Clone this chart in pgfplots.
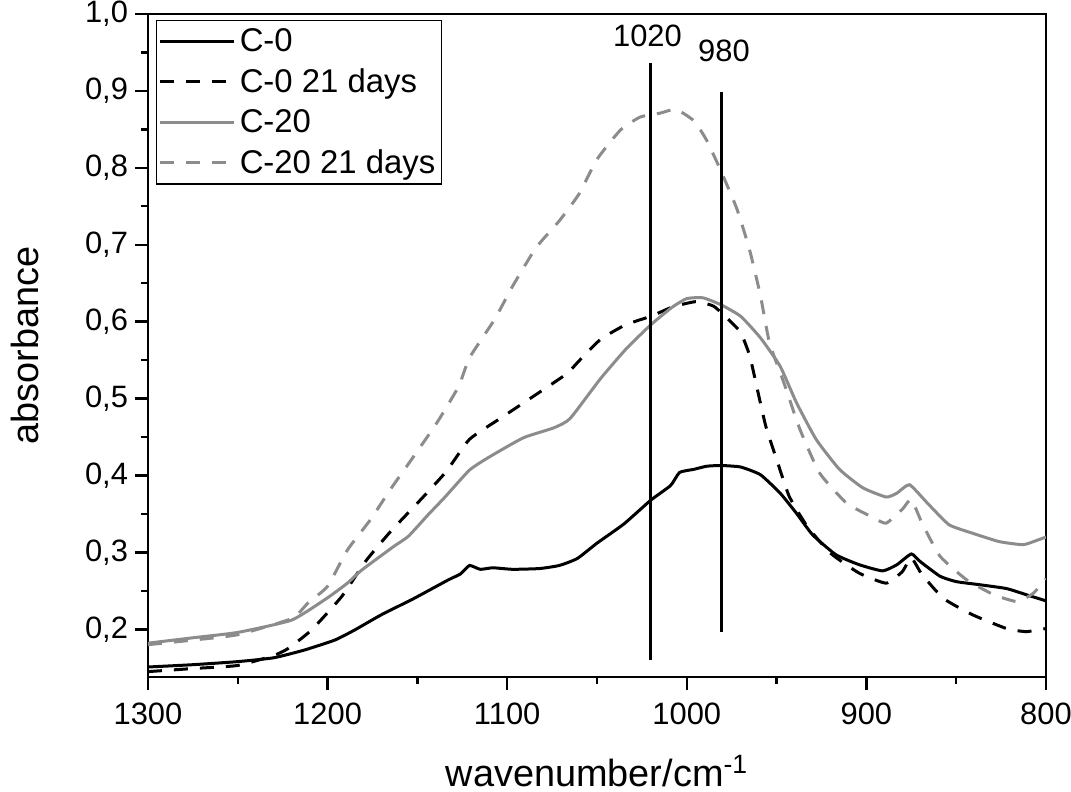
\documentclass[border=0pt]{standalone}
\usepackage{fontspec}
\setmainfont{Liberation Sans}
\usepackage{pgfplots}
\pgfplotsset{compat=1.18}
\definecolor{mygray}{RGB}{140,140,140}
\begin{document}
\begin{tikzpicture}
\begin{axis}[
  scale only axis,
  width=449bp, height=331.5bp,
  xmin=800, xmax=1300, x dir=reverse,
  ymin=0.138, ymax=1.0,
  xtick={800,900,...,1300},
  ytick={0.2,0.3,...,1.0},
  minor x tick num=1,
  minor y tick num=1,
  tick align=outside,
  tick pos=left,
  major tick length=6.5bp,
  minor tick length=3.5bp,
  every tick/.style={black, line width=1.2bp},
  axis line style={line width=1.4bp},
  /pgf/number format/assume math mode=true,
  tick label style={font=\fontsize{15.5}{18}\selectfont},
  xticklabel style={yshift=-3bp, /pgf/number format/.cd, fixed, precision=0, set thousands separator={}},
  yticklabel style={/pgf/number format/.cd, fixed, fixed zerofill, precision=1, use comma},
  xlabel={wavenumber/cm\textsuperscript{-1}},
  ylabel={absorbance},
  label style={font=\fontsize{19}{23}\selectfont},
  xlabel style={at={(axis description cs:0.5,-0.1644)}, anchor=base},
  ylabel style={at={(axis description cs:-0.137,0.5)}, anchor=center},
  legend style={at={(0.009,0.991)}, anchor=north west, draw=black, line width=0.7bp,
    font=\fontsize{16.5}{18}\selectfont, inner xsep=1bp, inner ysep=2bp, row sep=3bp},
  legend cell align=left,
  legend image code/.code={\draw[#1] (0bp,0bp) -- (37bp,0bp);},
  every axis plot/.append style={smooth, tension=0.3},
]
\addplot[black, line width=1.5bp] coordinates {
(1300,0.151)(1275,0.154)(1250,0.158)(1230,0.163)(1213,0.173)(1196,0.186)(1185,0.199)
(1170,0.219)(1152,0.240)(1133,0.264)(1126,0.272)(1121,0.283)(1115,0.278)(1108,0.280)
(1097,0.278)(1082,0.279)(1071,0.283)(1061,0.292)(1050,0.312)(1035,0.337)(1020,0.368)
(1009,0.387)(1004,0.404)(996,0.408)(989,0.412)(981,0.413)(970,0.411)(959,0.401)
(948,0.377)(939,0.351)(930,0.323)(917,0.297)(904,0.284)(891,0.276)(883,0.284)
(875,0.298)(870,0.288)(859,0.269)(850,0.262)(837,0.258)(822,0.253)(811,0.245)(800,0.237)
};
\addlegendentry{C-0}
\addplot[black, line width=1.5bp, dash pattern=on 7bp off 6bp] coordinates {
(1300,0.145)(1275,0.149)(1250,0.153)(1230,0.166)(1222,0.175)(1209,0.199)(1192,0.243)
(1179,0.288)(1165,0.327)(1148,0.369)(1134,0.405)(1121,0.447)(1104,0.474)(1086,0.502)
(1067,0.532)(1060,0.549)(1048,0.577)(1034,0.596)(1020,0.607)(1008,0.619)(995,0.626)
(985,0.620)(976,0.601)(970,0.586)(965,0.556)(961,0.515)(956,0.464)(950,0.421)
(943,0.373)(933,0.334)(920,0.299)(904,0.273)(889,0.260)(880,0.275)(875,0.293)
(869,0.271)(857,0.240)(841,0.219)(822,0.201)(811,0.197)(800,0.201)
};
\addlegendentry{C-0 21 days}
\addplot[mygray, line width=1.5bp] coordinates {
(1300,0.182)(1275,0.189)(1250,0.196)(1220,0.212)(1200,0.241)(1189,0.260)(1181,0.277)
(1163,0.308)(1155,0.321)(1144,0.349)(1135,0.371)(1121,0.407)(1110,0.424)(1091,0.449)
(1074,0.462)(1065,0.474)(1048,0.526)(1034,0.564)(1020,0.596)(1008,0.619)(1000,0.630)
(991,0.631)(981,0.622)(970,0.607)(959,0.579)(948,0.542)(939,0.495)(928,0.447)
(915,0.408)(902,0.384)(889,0.372)(883,0.377)(876,0.388)(866,0.364)(854,0.336)
(841,0.325)(826,0.314)(813,0.310)(807,0.314)(800,0.320)
};
\addlegendentry{C-20}
\addplot[mygray, line width=1.5bp, dash pattern=on 7bp off 6bp] coordinates {
(1300,0.180)(1275,0.186)(1250,0.193)(1220,0.214)(1211,0.234)(1200,0.256)(1189,0.303)
(1176,0.343)(1165,0.382)(1152,0.425)(1139,0.469)(1127,0.516)(1121,0.553)(1107,0.603)
(1097,0.646)(1084,0.696)(1071,0.731)(1060,0.766)(1050,0.811)(1037,0.849)(1026,0.866)
(1015,0.871)(1006,0.876)(996,0.861)(989,0.836)(981,0.796)(972,0.746)(965,0.693)
(959,0.634)(954,0.573)(946,0.521)(937,0.460)(926,0.403)(911,0.364)(896,0.345)
(889,0.338)(880,0.356)(875,0.369)(869,0.338)(859,0.295)(844,0.264)(829,0.245)
(816,0.236)(807,0.247)(800,0.266)
};
\addlegendentry{C-20 21 days}
\addplot[black, line width=1.5bp, forget plot, sharp plot] coordinates {(1020,0.160)(1020,0.936)};
\addplot[black, line width=1.5bp, forget plot, sharp plot] coordinates {(980.5,0.196)(980.5,0.898)};
\node[font=\fontsize{15.5}{18}\selectfont, anchor=center] at (axis cs:1021.9,0.972) {1020};
\node[font=\fontsize{15.5}{18}\selectfont, anchor=center] at (axis cs:979.3,0.952) {980};
\end{axis}
\pgfresetboundingbox
\path ([xshift=-74bp,yshift=-57.5bp]current axis.south west) rectangle ([xshift=12.5bp,yshift=7bp]current axis.north east);
\end{tikzpicture}
\end{document}
